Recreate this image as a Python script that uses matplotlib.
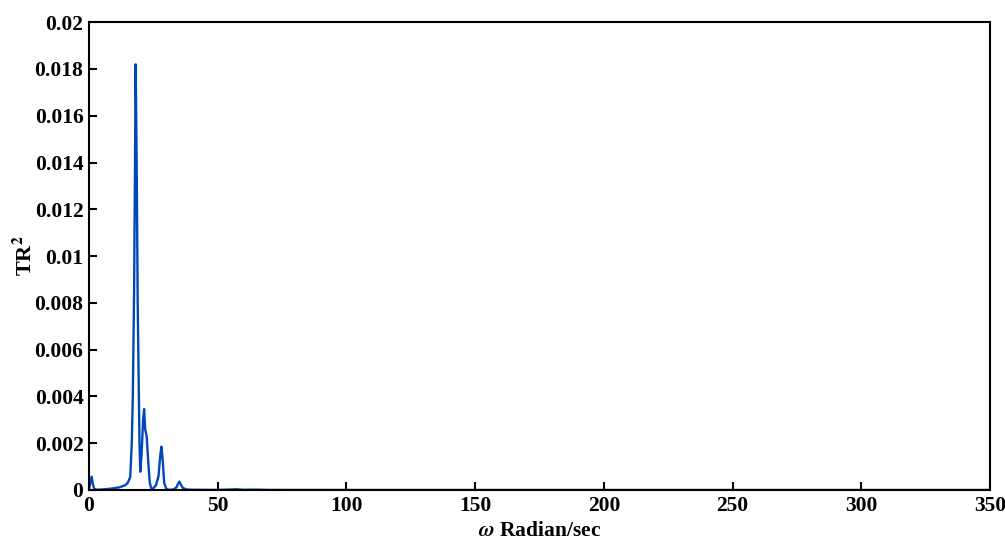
import matplotlib
matplotlib.use("Agg")
import matplotlib.pyplot as plt
from matplotlib.ticker import FuncFormatter

omega = [0, 0.5, 1.0, 1.5, 2.0, 3, 5, 8, 10, 12, 14, 15, 16, 16.6, 17.0, 17.5, 17.8, 18.1, 18.5, 18.9,
         19.3, 19.6, 19.9, 20.4, 21.0, 21.4, 21.8, 22.4, 23.0, 23.6, 24.3, 25, 26, 27, 27.6, 28.1,
         28.6, 29.2, 30, 31, 32, 33, 34, 34.5, 35.1, 35.7, 36.5, 38, 40, 45, 50, 55, 57, 60, 65,
         70, 80, 100, 150, 200, 250, 300, 350]
tr2_milli = [0.05, 0.3, 0.57, 0.25, 0.05, 0.01, 0.02, 0.05, 0.08, 0.12, 0.2, 0.3, 0.55, 2.0, 4.0,
             8.5, 13.0, 18.2, 14.0, 8.0, 4.5, 2.0, 0.78, 1.5, 3.0, 3.46, 2.6, 2.28, 1.2, 0.3, 0.02,
             0.08, 0.2, 0.6, 1.4, 1.85, 1.3, 0.3, 0.05, 0.01, 0.01, 0.03, 0.12, 0.25, 0.36, 0.22,
             0.08, 0.02, 0.01, 0.005, 0.003, 0.02, 0.03, 0.01, 0.015, 0.003, 0.001, 0.0005,
             0.0002, 0.0001, 0.0, 0.0, 0.0]
tr2 = [v * 1e-3 for v in tr2_milli]

plt.rcParams['font.family'] = ['Liberation Serif', 'DejaVu Serif']
plt.rcParams['font.weight'] = 'bold'
plt.rcParams['mathtext.fontset'] = 'stix'

fig = plt.figure(figsize=(10.05, 5.42), dpi=100)
ax = fig.add_axes([0.0886, 0.096, 0.8965, 0.863])
ax.plot(omega, tr2, color='#0047BB', lw=1.7)
ax.set_xlim(0, 350)
ax.set_ylim(0, 0.02)
ax.set_xticks(range(0, 351, 50))
ax.set_yticks([i * 0.002 for i in range(11)])
ax.yaxis.set_major_formatter(FuncFormatter(lambda v, p: '0' if abs(v) < 1e-12 else ('%.3f' % v).rstrip('0')))
ax.tick_params(direction='in', length=6, width=1.5, labelsize=15.5, top=False, right=False, pad=4)
for lab in ax.get_xticklabels() + ax.get_yticklabels():
    lab.set_fontweight('bold')
for s in ax.spines.values():
    s.set_linewidth(1.5)
ax.set_xlabel(r'$\omega$ Radian/sec', fontsize=15.5, fontweight='bold', labelpad=4)
ax.set_ylabel(r'TR$^{\mathbf{2}}$', fontsize=16, fontweight='bold', labelpad=-2)
fig.savefig('out.png', dpi=100)
